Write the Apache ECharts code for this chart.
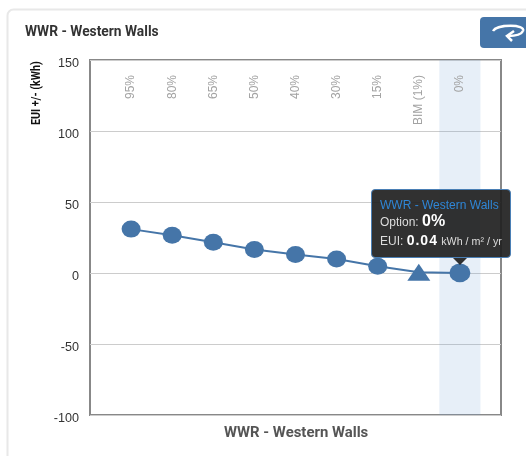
<!DOCTYPE html>
<html>
<head>
<meta charset="utf-8">
<script src="https://cdn.jsdelivr.net/npm/echarts@6/dist/echarts.min.js"></script>
<style>
html, body { margin: 0; padding: 0; background: #fff; }
#chart { width: 526px; height: 456px; }
</style>
</head>
<body>
<div id="chart"></div>
<script>
// blank first and last entries give the one step of padding either side
var categories = ['', '95%', '80%', '65%', '50%', '40%', '30%', '15%', 'BIM (1%)', '0%', ''];
var euiValues = [null, 30.9, 26.6, 21.7, 16.5, 13, 9.8, 4.8, 0.5, 0.04, null];
var yTicks = [-100, -50, 0, 50, 100, 150];
var chartName = 'WWR - Western Walls';
var bimIndex = 8;
var selectedIndex = 9;

var blue = '#4575a8';
var chart = echarts.init(document.getElementById('chart'), null, { renderer: 'canvas' });

var points = euiValues.map(function (v, i) {
	if (i === bimIndex) {
		return { value: v, symbol: 'triangle', symbolSize: [23, 17] };
	}
	return v;
});

chart.setOption({
	animation: false,
	title: [
		{
			text: chartName,
			left: 20,
			top: 21,
			textStyle: { fontFamily: 'Roboto', fontSize: 13.8, fontWeight: 'bold', color: '#333' }
		},
		{
			text: chartName,
			left: 219,
			top: 421,
			textStyle: { fontFamily: 'Roboto', fontSize: 14.9, fontWeight: 'bold', color: '#555' }
		}
	],
	grid: { left: 90, right: 25, top: 60, bottom: 41, show: true, borderColor: '#888', borderWidth: 2, backgroundColor: 'transparent' },
	tooltip: {
		trigger: 'axis',
		alwaysShowContent: true,
		transitionDuration: 0,
		axisPointer: { type: 'shadow', shadowStyle: { color: '#6ea0d8', opacity: 0.17 }, z: 0 },
		position: [371, 189],
		padding: [6, 0, 6, 8],
		backgroundColor: 'rgba(32,32,32,0.92)',
		borderColor: '#4a7fb5',
		borderWidth: 1,
		extraCssText: 'width:130px;height:55px;border-radius:4px;box-shadow:none;overflow:visible;',
		formatter: function (params) {
			var p = params[0];
			return '<div style="font:12px/18px \'Liberation Sans\';color:#fff;white-space:nowrap;">' +
				'<div style="color:#2f86d6;">' + chartName + '</div>' +
				'<div style="color:#ddd;margin-top:-2px;">Option: <b style="font-size:16px;color:#fff;">' + p.name + '</b></div>' +
				'<div style="color:#ddd;">EUI: <b style="font-size:14px;color:#fff;letter-spacing:1px;">' + p.value + '</b> <span style="font-size:10.7px;">kWh / m² / yr</span></div>' +
				'<div style="position:absolute;left:81px;top:68px;width:0;height:0;border-left:7px solid transparent;border-right:7px solid transparent;border-top:7px solid rgba(32,32,32,0.92);"></div>' +
				'</div>';
		}
	},
	xAxis: {
		type: 'category',
		position: 'top',
		data: categories,
		boundaryGap: false,
		axisLine: { show: false },
		axisTick: { show: false },
		splitLine: { show: false },
		axisLabel: {
			inside: true,
			rotate: 90,
			interval: 0,
			margin: 15,
			fontFamily: 'Liberation Sans',
			fontSize: 12,
			color: '#a3a3a3'
		}
	},
	yAxis: {
		type: 'value',
		min: yTicks[0],
		max: yTicks[yTicks.length - 1],
		interval: 50,
		axisLine: { show: false },
		axisTick: { show: false },
		splitLine: { lineStyle: { color: '#ccc', width: 1 } },
		axisLabel: { margin: 11, verticalAlign: 'top', lineHeight: 8, fontFamily: 'Liberation Sans', fontSize: 12.6, color: '#333' }
	},
	series: [{
		type: 'line',
		data: points,
		symbol: 'circle',
		symbolSize: [19, 17],
		showAllSymbols: true,
		connectNulls: false,
		z: 5,
		lineStyle: { color: blue, width: 2 },
		itemStyle: { color: blue },
		emphasis: { disabled: true }
	}],
	graphic: [
		{
			type: 'rect',
			z: -10,
			silent: true,
			shape: { x: 7.5, y: 9.5, width: 560, height: 500, r: 6 },
			style: { fill: '#fff', stroke: '#e8e8e8', lineWidth: 2 }
		},
		{
			type: 'rect',
			silent: true,
			shape: { x: 480, y: 17, width: 60, height: 31, r: 4 },
			style: { fill: blue }
		},
		// return arrow on the button
		{
			type: 'bezierCurve',
			silent: true,
			shape: { x1: 493, y1: 31, cpx1: 497, cpy1: 24, cpx2: 526, cpy2: 24, x2: 523, y2: 31 },
			style: { fill: null, stroke: '#fff', lineWidth: 2.5 }
		},
		{
			type: 'bezierCurve',
			silent: true,
			shape: { x1: 523, y1: 31, cpx1: 521, cpy1: 35, cpx2: 515, cpy2: 36, x2: 508, y2: 36 },
			style: { fill: null, stroke: '#fff', lineWidth: 2.5 }
		},
		{
			type: 'polyline',
			silent: true,
			shape: { points: [[514, 31], [507, 36], [512, 41]] },
			style: { fill: null, stroke: '#fff', lineWidth: 2.5 }
		},
		{
			type: 'text',
			silent: true,
			x: 31,
			y: 125,
			rotation: Math.PI / 2,
			scaleX: 0.885,
			style: { text: 'EUI +/- (kWh)', fontFamily: 'Roboto', fontSize: 12, fontWeight: 'bold', fill: '#111', align: 'left', verticalAlign: 'top' }
		}
	]
});

chart.dispatchAction({ type: 'showTip', seriesIndex: 0, dataIndex: selectedIndex });
</script>
</body>
</html>
